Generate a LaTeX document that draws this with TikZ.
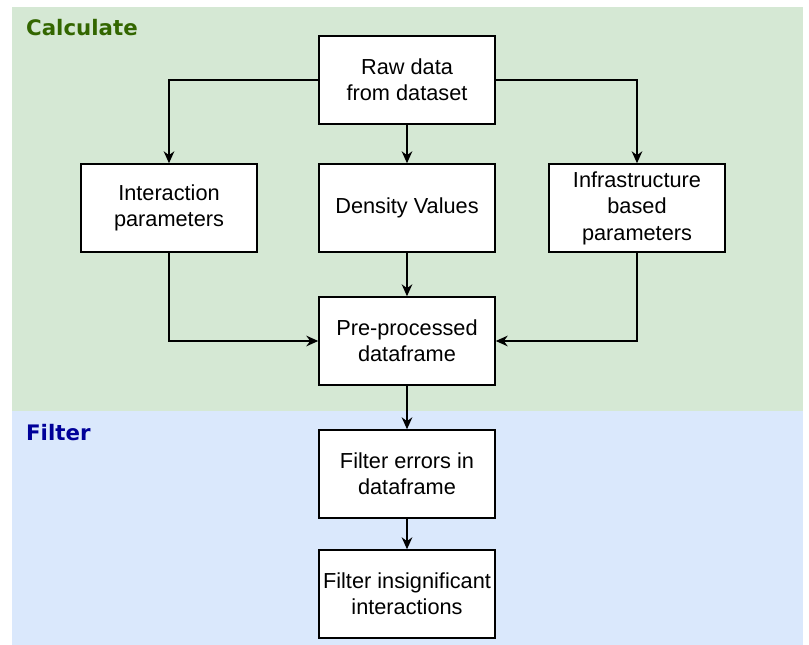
\documentclass[tikz,border=0pt]{standalone}
\usepackage{fontspec}
\setmainfont{Liberation Sans}
\newfontfamily\headfont{DejaVu Sans}
\usetikzlibrary{arrows.meta}

\definecolor{calcbg}{HTML}{D5E8D4}
\definecolor{filtbg}{HTML}{DAE8FC}
\definecolor{calctxt}{HTML}{336600}
\definecolor{filttxt}{HTML}{000099}

\begin{document}
\begin{tikzpicture}[x=0.75pt, y=-0.75pt, line width=1.1pt, >={Stealth[length=9pt,width=8pt]},
  stepbox/.style={draw, fill=white, minimum width=132pt, minimum height=66pt,
    align=center, inner sep=2pt, font=\fontsize{16.3}{19.8}\selectfont},
  heading/.style={anchor=west, font=\headfont\bfseries\fontsize{16}{19}\selectfont}]
  \useasboundingbox (0,0) rectangle (809,645);
  \fill[calcbg] (12,7) rectangle (803,411);
  \fill[filtbg] (12,411) rectangle (803,645);
  \node[heading, text=calctxt] (calc) at (21,28) {Calculate};
  \node[heading, text=filttxt] (filt) at (21,433) {Filter};

  \node[stepbox] (raw)   at (407,80)  {Raw data\\from dataset};
  \node[stepbox] (inter) at (169,208) {Interaction\\parameters};
  \node[stepbox] (dens)  at (407,208) {Density Values};
  \node[stepbox] (infra) at (637,208) {Infrastructure\\based\\parameters};
  \node[stepbox] (pre)   at (407,341) {Pre-processed\\dataframe};
  \node[stepbox] (ferr)  at (407,474) {Filter errors in\\dataframe};
  \node[stepbox] (fins)  at (407,594) {Filter insignificant\\interactions};

  \draw[->] (raw.west) -| (inter.north);
  \draw[->] (raw.east) -| (infra.north);
  \draw[->] (raw) -- (dens);
  \draw[->] (inter.south) |- (pre.west);
  \draw[->] (infra.south) |- (pre.east);
  \draw[->] (dens) -- (pre);
  \draw[->] (pre) -- (ferr);
  \draw[->] (ferr) -- (fins);
\end{tikzpicture}
\end{document}
